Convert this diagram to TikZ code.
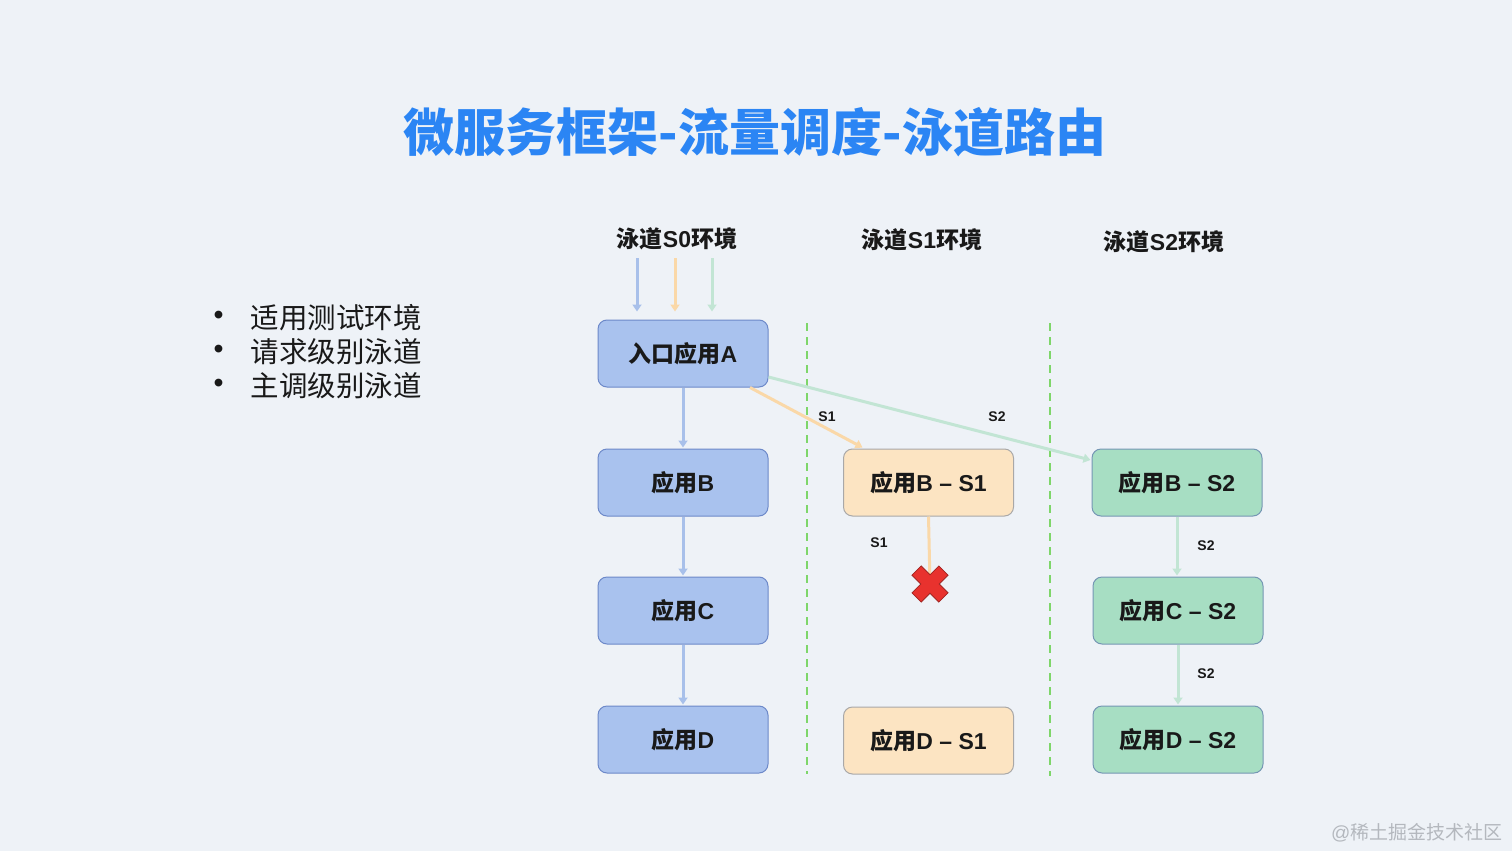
\documentclass[tikz,border=0pt]{standalone}
\usepackage{fontspec}
\setmainfont{Liberation Sans}
\newfontfamily\cjk{Noto Sans CJK SC}
\usetikzlibrary{arrows.meta}
\definecolor{bgc}{HTML}{EEF2F7}
\definecolor{titleblue}{HTML}{2B85F4}
\definecolor{bluefill}{HTML}{A9C2EE}
\definecolor{blueline}{HTML}{6D89C9}
\definecolor{orangefill}{HTML}{FCE4C2}
\definecolor{orangeline}{HTML}{A9A8A8}
\definecolor{greenfill}{HTML}{A7DEC3}
\definecolor{greenline}{HTML}{7596B4}
\definecolor{arrblue}{HTML}{A8C0EA}
\definecolor{arrorange}{HTML}{FAD8A8}
\definecolor{arrgreen}{HTML}{C2E5D4}
\definecolor{lanegreen}{HTML}{7ED66A}
\definecolor{xred}{HTML}{E8322E}
\definecolor{wmgray}{HTML}{B4B8BE}
\newcommand\cj[1]{{\cjk #1}}
\begin{document}
\begin{tikzpicture}[x=1pt,y=-1pt,
  appbox/.style={rounded corners=9pt, line width=1pt, minimum width=170pt, minimum height=67pt,
    inner sep=0pt, font=\fontsize{23}{27}\selectfont\bfseries, text=black!90},
  bluebox/.style={appbox, fill=bluefill, draw=blueline},
  orangebox/.style={appbox, fill=orangefill, draw=orangeline},
  greenbox/.style={appbox, fill=greenfill, draw=greenline},
  flow/.style={line width=3pt, -{Triangle[width=9pt,length=7pt]}},
  header/.style={font=\fontsize{23}{27}\selectfont\bfseries, text=black!90},
  small/.style={font=\fontsize{14}{16}\selectfont\bfseries, text=black!90},
  lane/.style={draw=lanegreen, line width=2pt, dash pattern=on 8pt off 6pt},
  bullet/.style={font=\fontsize{28.5}{34}\selectfont, text=black!90, anchor=west}
]
\fill[bgc] (0,0) rectangle (1512,851);
\useasboundingbox (0,0) rectangle (1512,851);

% title
\node[font=\cjk\fontsize{51}{58}\selectfont\bfseries, text=titleblue] (title) at (755,132) {微服务框架-流量调度-泳道路由};

% bullets
\node[bullet] (b1d) at (210,318) {•};
\node[bullet] (b1) at (247,318) {\cj{适用测试环境}};
\node[bullet] (b2d) at (210,352) {•};
\node[bullet] (b2) at (247,352) {\cj{请求级别泳道}};
\node[bullet] (b3d) at (210,386) {•};
\node[bullet] (b3) at (247,386) {\cj{主调级别泳道}};

% headers
\node[header] (h0) at (677,239) {\cj{泳道}S0\cj{环境}};
\node[header] (h1) at (922,240) {\cj{泳道}S1\cj{环境}};
\node[header] (h2) at (1164,242) {\cj{泳道}S2\cj{环境}};

% lanes
\coordinate (l1t) at (807,323); \coordinate (l1b) at (807,774);
\coordinate (l2t) at (1050,323); \coordinate (l2b) at (1050,776);
\draw[lane] (l1t) -- (l1b);
\draw[lane] (l2t) -- (l2b);

% boxes
\node[bluebox] (a) at (683,353.5) {\cj{入口应用}A};
\node[bluebox] (b) at (683,482.5) {\cj{应用}B};
\node[bluebox] (c) at (683,610.5) {\cj{应用}C};
\node[bluebox] (d) at (683,739.5) {\cj{应用}D};
\node[orangebox] (bs1) at (928.5,482.5) {\cj{应用}B – S1};
\node[orangebox] (ds1) at (928.5,740.5) {\cj{应用}D – S1};
\node[greenbox] (bs2) at (1177,482.5) {\cj{应用}B – S2};
\node[greenbox] (cs2) at (1178,610.5) {\cj{应用}C – S2};
\node[greenbox] (ds2) at (1178,739.5) {\cj{应用}D – S2};

% incoming arrows
\coordinate (in1) at (637,258);
\coordinate (in2) at (675,258);
\coordinate (in3) at (712,258);
\draw[flow, arrblue, shorten >=8pt] (in1) -- (in1 |- a.north);
\draw[flow, arrorange, shorten >=8pt] (in2) -- (in2 |- a.north);
\draw[flow, arrgreen, shorten >=8pt] (in3) -- (in3 |- a.north);

% S0 chain
\draw[flow, arrblue] (a.south) -- ([yshift=1pt]b.north);
\draw[flow, arrblue] (b.south) -- ([yshift=1pt]c.north);
\draw[flow, arrblue] (c.south) -- ([yshift=1pt]d.north);

% branching
\draw[flow, arrorange] ([xshift=67pt]a.south) -- ([xshift=-66pt,yshift=1pt]bs1.north);
\draw[flow, arrgreen] ([yshift=-23.5pt]a.east) -- ([xshift=-1pt,yshift=22.5pt]bs2.west);
\node[small] (ls1) at (827,417) {S1};
\node[small] (ls2) at (997,417) {S2};

% S1 broken chain
\node[minimum size=38pt, inner sep=0pt] (xm) at (930,584) {};
\draw[line width=3pt, arrorange] (bs1.south) -- (xm.center);
\begin{scope}[shift={(xm.center)}, rotate=45]
  \fill[xred, draw=xred!70!black, line width=0.8pt]
    (6.5,19) -- (6.5,6.5) -- (19,6.5) -- (19,-6.5) -- (6.5,-6.5) -- (6.5,-19)
    -- (-6.5,-19) -- (-6.5,-6.5) -- (-19,-6.5) -- (-19,6.5) -- (-6.5,6.5) -- (-6.5,19) -- cycle;
\end{scope}
\node[small] (ls1b) at (879,543) {S1};

% S2 chain
\draw[flow, arrgreen] (bs2.south) -- ([yshift=1pt]bs2.south |- cs2.north);
\draw[flow, arrgreen] (cs2.south) -- ([yshift=1pt]ds2.north);
\node[small] (ls2b) at (1206,546) {S2};
\node[small] (ls2c) at (1206,674) {S2};

% watermark
\node[anchor=east, text=wmgray, font=\fontsize{19}{22}\selectfont] (wm) at (1506,833) {@\cj{稀土掘金技术社区}};
\end{tikzpicture}
\end{document}
